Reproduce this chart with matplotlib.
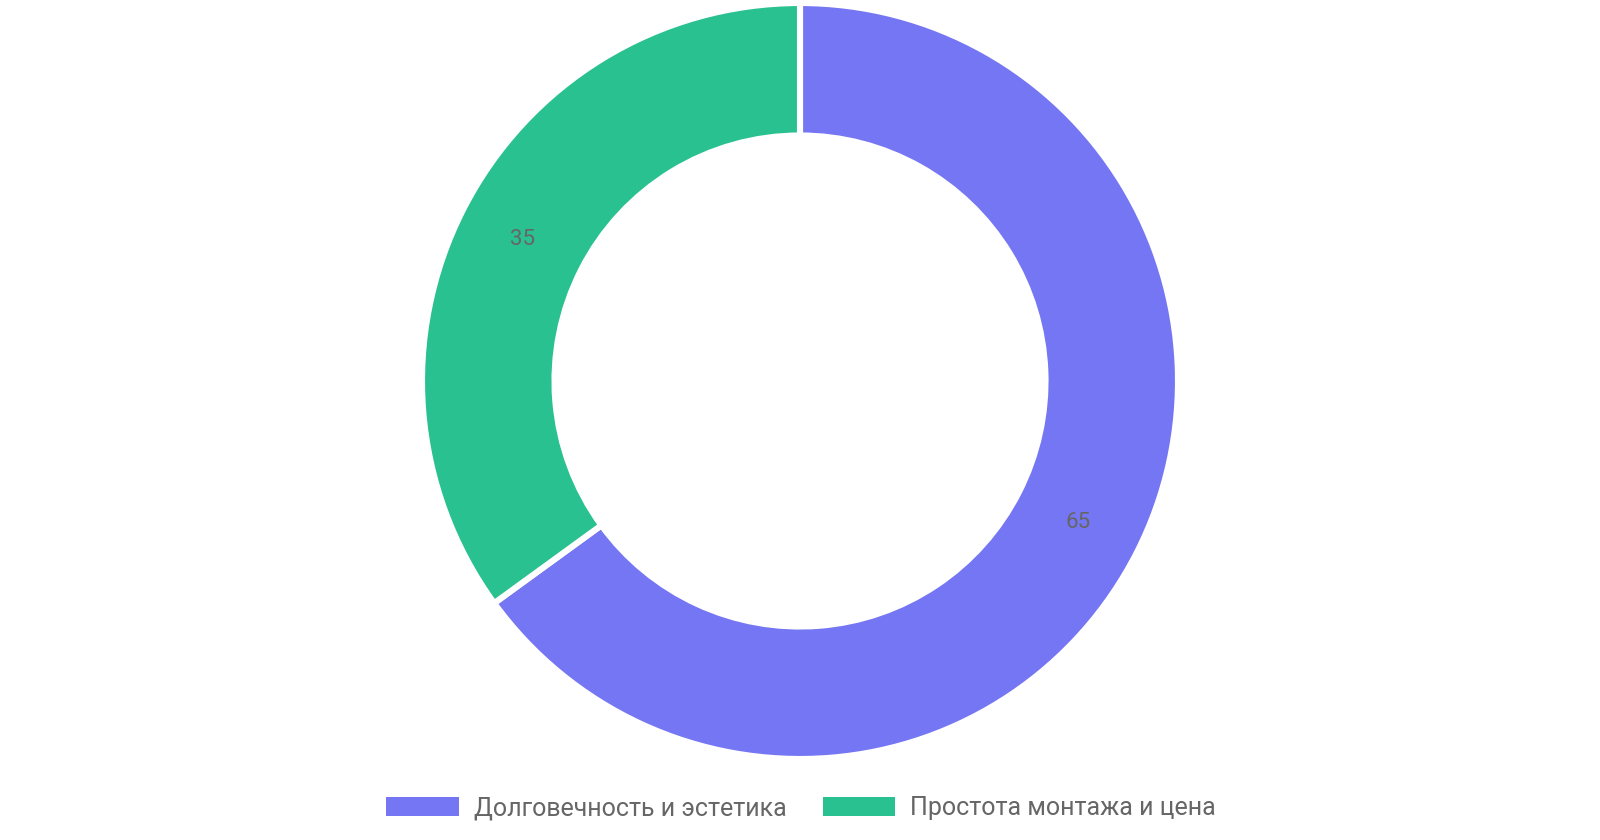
import matplotlib
matplotlib.use("Agg")
import matplotlib.pyplot as plt
from matplotlib.patches import Patch

labels = ["Долговечность и эстетика", "Простота монтажа и цена"]
values = [65, 35]
colors = ["#7576F3", "#29C18F"]

W, H = 1600, 840
plt.rcParams["font.family"] = ["Roboto", "DejaVu Sans"]

fig = plt.figure(figsize=(W / 100, H / 100), dpi=100)
ax = fig.add_axes([0, 0, 1, 1])

# ring geometry in pixels
cx, cy, r_out, r_in = 800, H - 381, 378, 245.5
ax.pie(
    values, colors=colors, startangle=90, counterclock=False,
    center=(cx, cy), radius=r_out, frame=True,
    wedgeprops=dict(width=r_out - r_in, edgecolor="white", linewidth=4.4),
    autopct=lambda p: f"{p:.0f}", pctdistance=(r_out + r_in) / 2 / r_out,
    textprops=dict(color="#666666", fontsize=16),
)
ax.set_xlim(0, W)
ax.set_ylim(0, H)
ax.set_aspect("equal")
ax.axis("off")

handles = [Patch(facecolor=c, edgecolor="none", label=l) for c, l in zip(colors, labels)]
fig.legend(handles=handles, loc="center", bbox_to_anchor=(801 / W, 1 - 808 / H),
           ncol=2, frameon=False, fontsize=18, labelcolor="#666666",
           handlelength=2.9, handleheight=0.78, handletextpad=0.6, columnspacing=1.45)

fig.savefig("out.png", dpi=100)
